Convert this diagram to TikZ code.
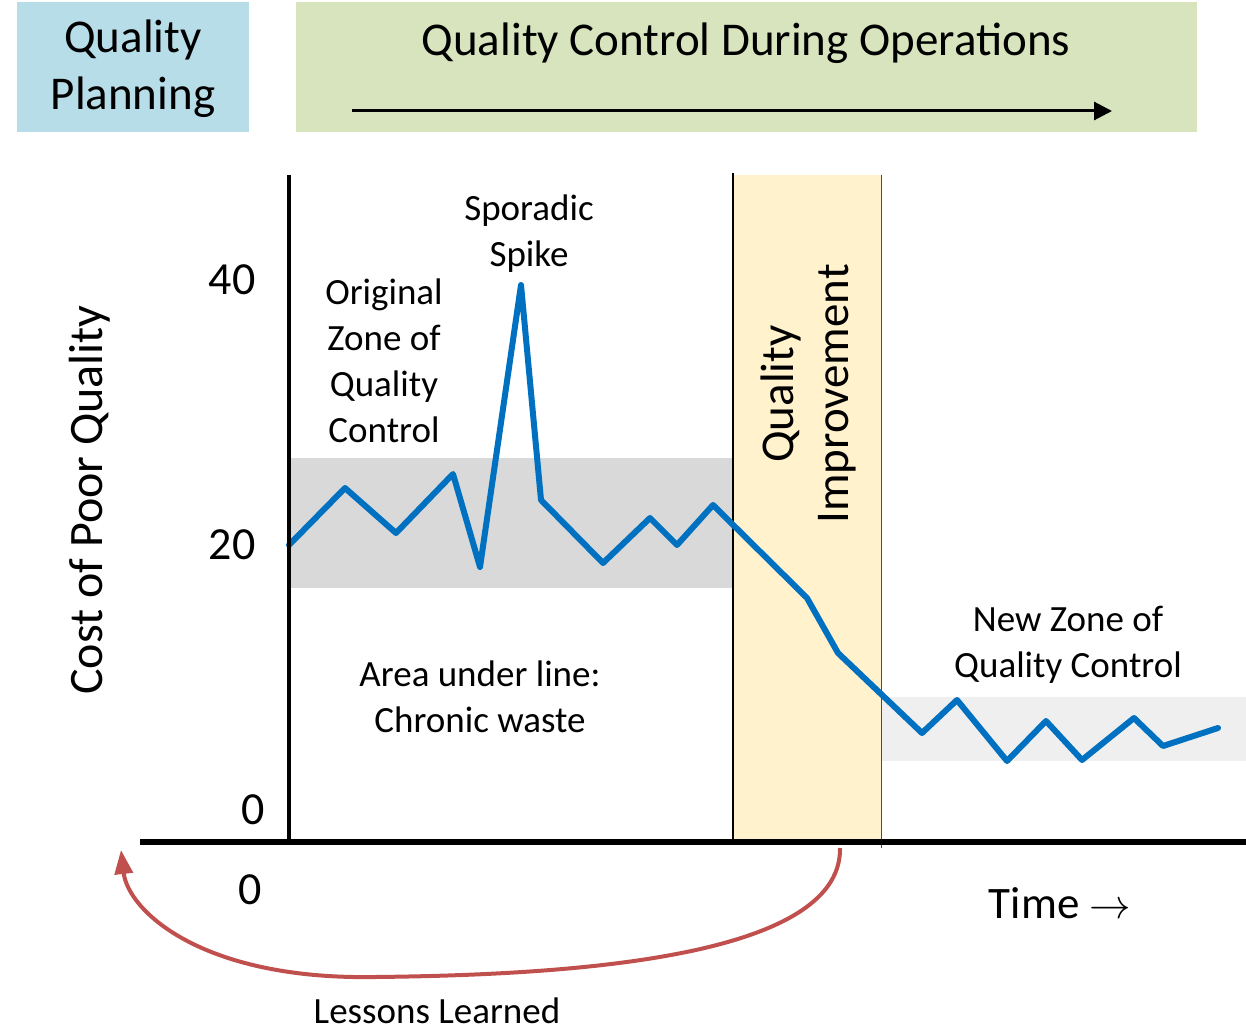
\documentclass[tikz,border=0pt]{standalone}
\usepackage{fontspec}
\setmainfont{Carlito}
\usetikzlibrary{arrows.meta}
\definecolor{qpblue}{HTML}{B7DDE8}
\definecolor{qcgreen}{HTML}{D7E4BD}
\definecolor{zonegrey}{HTML}{D9D9D9}
\definecolor{newgrey}{HTML}{EFEFEF}
\definecolor{qiyellow}{HTML}{FFF2CC}
\definecolor{lineblue}{HTML}{0070C0}
\definecolor{arrowred}{HTML}{C0504D}
\tikzset{
  hdrbox/.style={inner sep=0pt, outer sep=0pt, draw=none},
  hdrtext/.style={font=\fontsize{23.5}{28.5}\selectfont, align=center, inner sep=0pt},
  lbl/.style={font=\fontsize{18.5}{23}\selectfont, align=center, inner sep=0pt},
  num/.style={font=\fontsize{23}{27}\selectfont, inner sep=0pt},
  axis/.style={line width=#1, line cap=butt},
  cpq/.style={draw=lineblue, line width=3pt, line join=round, line cap=round},
  lessons/.style={draw=arrowred, line width=2pt, -{Triangle[length=12pt,width=9pt]}}
}
\begin{document}
\begin{tikzpicture}[x=0.5pt,y=-0.5pt]
\useasboundingbox (0,0) rectangle (1246,1032);
% header boxes
\node (qp) [hdrbox, fill=qpblue, minimum width=116pt, minimum height=65pt] at (133,67) {};
\node (qptext) [hdrtext] at (133,69) {Quality\\Planning};
\node (qc) [hdrbox, fill=qcgreen, minimum width=450.5pt, minimum height=65pt] at (746.5,67) {};
\node (qctext) [hdrtext] at (746,43) {Quality Control During Operations};
\coordinate (qcstart) at (352,111);
\coordinate (qcend) at (1112,111);
\draw[line width=1.5pt, -{Triangle[length=9pt,width=9pt]}] (qcstart) -- (qcend);
% zones
\node (oldzone) [hdrbox, fill=zonegrey, anchor=north west, minimum width=222pt, minimum height=65pt] at (289,458) {};
\node (newzone) [hdrbox, fill=newgrey, anchor=north west, minimum width=182.5pt, minimum height=32pt] at (881,697) {};
\node (qiband) [hdrbox, fill=qiyellow, anchor=north west, minimum width=74pt, minimum height=333.5pt] at (733,175) {};
\coordinate (qitl) at (733,173);
\coordinate (qibl) at (733,842);
\coordinate (qitr) at (881,175);
\coordinate (qibr) at (881,848);
\draw[line width=1pt] (qitl) -- (qibl);
\draw[line width=0.5pt, black!70] (qitr) -- (qibr);
% cost line
\draw[cpq] (289,545) -- (345,488) -- (396,533) -- (453,474) -- (480,567) -- (521,285)
  -- (541,500) -- (603,563) -- (650,518) -- (677,545) -- (713,505) -- (807,598)
  -- (838,653) -- (922,733) -- (957,700) -- (1007,761) -- (1046,721) -- (1082,760)
  -- (1134,718) -- (1163,746) -- (1218,728);
% axes
\coordinate (ytop) at (289,175);
\coordinate (origin) at (289,842);
\coordinate (xleft) at (140,842);
\coordinate (xright) at (1246,842);
\draw[axis=2pt] (ytop) -- (origin);
\draw[axis=3pt] (xleft) -- (xright);
% texts
\node (ylabel) [font=\fontsize{24}{28}\selectfont, rotate=90, inner sep=0pt] at (90,500) {Cost of Poor Quality};
\node (n40) [num] at (232,280) {40};
\node (n20) [num] at (232,545) {20};
\node (n0y) [num] at (253,810) {0};
\node (n0x) [num] at (250,890) {0};
\node (spike) [lbl] at (529,234) {Sporadic\\Spike};
\node (orig) [lbl] at (384,361) {Original\\Zone of\\Quality\\Control};
\node (area) [lbl] at (480,697) {Area under line:\\Chronic waste};
\node (newz) [lbl] at (1068,645) {New Zone of\\Quality Control};
\node (qitext) [hdrtext, rotate=90, font=\fontsize{23.5}{27.5}\selectfont] at (808,394) {Quality\\Improvement};
\node (time) [font=\fontsize{22.5}{27}\selectfont, inner sep=0pt] at (1060,903) {Time $\rightarrow$};
\node (lessonstext) [lbl] at (437,1011) {Lessons Learned};
% lessons learned arrow
\coordinate (lstart) at (840,848);
\coordinate (lmid) at (375,977);
\coordinate (lend) at (121,850);
\draw[lessons] (lstart) .. controls (842,960) and (560,975) .. (lmid) .. controls (200,980) and (128,910) .. (lend);
\end{tikzpicture}
\end{document}
